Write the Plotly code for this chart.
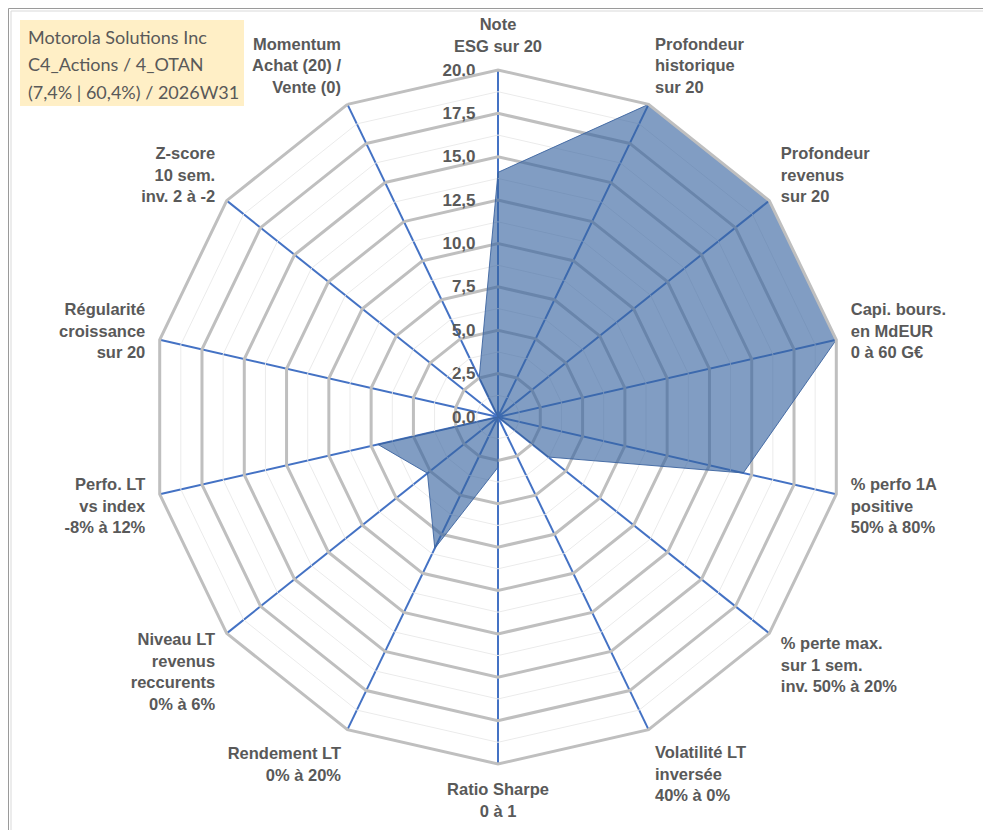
import plotly.graph_objects as go

categories = [
    "Note<br>ESG sur 20",
    "Profondeur<br>historique<br>sur 20",
    "Profondeur<br>revenus<br>sur 20",
    "Capi. bours.<br>en MdEUR<br>0 à 60 G€",
    "% perfo 1A<br>positive<br>50% à 80%",
    "% perte max.<br>sur 1 sem.<br>inv. 50% à 20%",
    "Volatilité LT<br>inversée<br>40% à 0%",
    "Ratio Sharpe<br>0 à 1",
    "Rendement LT<br>0% à 20%",
    "Niveau LT<br>revenus<br>reccurents<br>0% à 6%",
    "Perfo. LT<br>vs index<br>-8% à 12%",
    "Régularité<br>croissance<br>sur 20",
    "Z-score<br>10 sem.<br>inv. 2 à -2",
    "Momentum<br>Achat (20) /<br>Vente (0)",
]
scores = [14.1, 20.0, 20.0, 20.0, 14.5, 3.7, 0.0, 2.9, 8.4, 5.2, 7.1, 0.0, 0.0, 2.5]
major_ticks = [0, 2.5, 5, 7.5, 10, 12.5, 15, 17.5, 20]
minor_levels = [1.25, 3.75, 6.25, 8.75, 11.25, 13.75, 16.25, 18.75]
title_lines = ["Motorola Solutions Inc", "C4_Actions / 4_OTAN", "(7,4% | 60,4%) / 2026W31"]

GRAY_TXT = "#595959"
fig = go.Figure()

# faint minor rings
for lv in minor_levels:
    fig.add_trace(go.Scatterpolar(
        r=[lv] * (len(categories) + 1),
        theta=categories + [categories[0]],
        mode="lines",
        line=dict(color="#EBEBEB", width=1),
        hoverinfo="skip",
        showlegend=False,
    ))

fig.add_trace(go.Scatterpolar(
    r=scores + [scores[0]],
    theta=categories + [categories[0]],
    mode="lines",
    fill="toself",
    fillcolor="rgba(55,100,160,0.63)",
    line=dict(color="rgba(60,100,160,0.9)", width=1),
    hoverinfo="skip",
    showlegend=False,
))

W, H = 991, 830
cx, cy, R = 490, 409, 347

# title box (background + one text line each)
box_x0, box_x1, box_y0, box_y1 = 12, 236, 12, 98
line_y = [28.6, 56.4, 84.4]
annotations = []
for txt, ly in zip(title_lines, line_y):
    annotations.append(dict(
        text=txt, xref="paper", yref="paper",
        x=18 / W, y=1 - ly / H, xanchor="left", yanchor="middle",
        showarrow=False, font=dict(family="Lato", size=18, color=GRAY_TXT),
    ))

fig.update_layout(
    width=W, height=H,
    margin=dict(l=0, r=0, t=0, b=0),
    paper_bgcolor="white",
    separators=", ",
    showlegend=False,
    polar=dict(
        domain=dict(x=[(cx - R) / W, (cx + R) / W], y=[1 - (cy + R) / H, 1 - (cy - R) / H]),
        bgcolor="white",
        gridshape="linear",
        hole=0,
        radialaxis=dict(
            range=[0, 20],
            tickvals=major_ticks,
            tickformat=".1f",
            angle=90,
            tickangle=90,
            side="counterclockwise",
            showline=False,
            ticks="outside",
            ticklen=16,
            tickcolor="rgba(0,0,0,0)",
            gridcolor="#BFBFBF",
            gridwidth=3,
            tickfont=dict(family="Liberation Sans", size=17, color=GRAY_TXT, weight="bold"),
            layer="below traces",
        ),
        angularaxis=dict(
            direction="clockwise",
            rotation=90,
            gridcolor="#4472C4",
            gridwidth=1.6,
            linecolor="#BFBFBF",
            linewidth=3,
            showline=True,
            ticks="outside",
            ticklen=10,
            tickcolor="rgba(0,0,0,0)",
            tickfont=dict(family="Liberation Sans", size=16.5, color=GRAY_TXT, weight="bold"),
            layer="above traces",
        ),
    ),
    annotations=annotations,
    shapes=[
        dict(type="rect", xref="paper", yref="paper",
             x0=box_x0 / W, x1=box_x1 / W, y0=1 - box_y1 / H, y1=1 - box_y0 / H,
             line=dict(width=0), fillcolor="#FFEFC6", layer="below"),
        dict(type="rect", xref="paper", yref="paper",
             x0=3 / W, x1=980 / W, y0=1 - 824 / H, y1=1 - 3 / H,
             line=dict(color="#D9D9D9", width=1), fillcolor="rgba(0,0,0,0)", layer="below"),
        dict(type="rect", xref="paper", yref="paper",
             x0=0.5 / W, x1=990.5 / W, y0=0.5 / H, y1=1 - 0.5 / H,
             line=dict(color="#9A9A9A", width=1), fillcolor="rgba(0,0,0,0)", layer="below"),
    ],
)

fig.write_html("out.html")
